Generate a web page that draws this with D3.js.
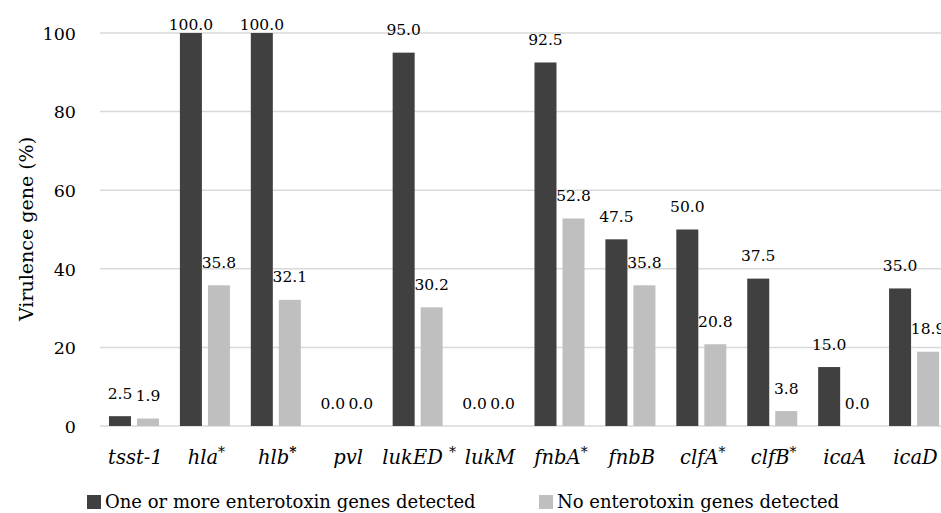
<!DOCTYPE html>
<html>
<head>
<meta charset="utf-8">
<script src="https://cdn.jsdelivr.net/npm/d3@7"></script>
<style>
  html, body { margin: 0; padding: 0; background: #ffffff; }
  svg { display: block; }
  text { font-family: "DejaVu Serif", "Liberation Serif", "Noto Serif", serif; fill: #000; }
</style>
</head>
<body>
<svg id="chart" width="941" height="513"></svg>
<script>
// ---- data ----
const categories = ["tsst-1", "hla", "hlb", "pvl", "lukED", "lukM", "fnbA", "fnbB", "clfA", "clfB", "icaA", "icaD"];
const asterisks  = ["", "*", "*", "", " *", "", "*", "", "*", "*", "", ""];
const seriesNames = ["One or more enterotoxin genes detected", "No enterotoxin genes detected"];
const withEnterotoxin = [2.5, 100.0, 100.0, 0.0, 95.0, 0.0, 92.5, 47.5, 50.0, 37.5, 15.0, 35.0];
const noEnterotoxin   = [1.9, 35.8, 32.1, 0.0, 30.2, 0.0, 52.8, 35.8, 20.8, 3.8, 0.0, 18.9];
const yTicks = [0, 20, 40, 60, 80, 100];
const yTitle = "Virulence gene (%)";

const colors = ["#404040", "#bfbfbf"];
const FONT = '"DejaVu Serif", "Liberation Serif", "Noto Serif", serif';

const svg = d3.select("#chart");

const x0 = d3.scaleBand().domain(categories).range([100, 951]).paddingInner(0).paddingOuter(0);
const x1 = d3.scaleBand().domain([0, 1]).range([0, x0.bandwidth()])
  .paddingInner(6 / 28).paddingOuter(0.373).align(0.43);
const y = d3.scaleLinear().domain([0, 100]).range([426, 33]);

// gridlines
svg.append("g").selectAll("line").data(yTicks).join("line")
  .attr("x1", 100).attr("x2", 941)
  .attr("y1", d => y(d)).attr("y2", d => y(d))
  .attr("stroke", "#d9d9d9").attr("stroke-width", 1.5);

// y tick labels via axis
const yAxis = d3.axisLeft(y).tickValues(yTicks).tickSize(0).tickPadding(0).tickFormat(d3.format("d"));
const ya = svg.append("g").attr("transform", "translate(76,0)").call(yAxis)
  .attr("font-family", FONT).attr("font-size", 17.5);
ya.select(".domain").remove();
ya.selectAll("text").attr("fill", "#000").attr("dy", "0.36em");

// bars
const rows = categories.map((c, i) => ({ cat: c, vals: [withEnterotoxin[i], noEnterotoxin[i]] }));
const groups = svg.append("g").selectAll("g").data(rows).join("g")
  .attr("transform", d => `translate(${x0(d.cat)},0)`);

groups.selectAll("rect").data(d => d.vals.map((v, s) => ({ v, s }))).join("rect")
  .attr("x", d => x1(d.s)).attr("width", x1.bandwidth())
  .attr("y", d => y(d.v)).attr("height", d => y(0) - y(d.v))
  .attr("fill", d => colors[d.s]);

// value labels
groups.selectAll("text.val").data(d => d.vals.map((v, s) => ({ v, s }))).join("text")
  .attr("class", "val")
  .attr("x", d => x1(d.s) + x1.bandwidth() / 2)
  .attr("y", d => Math.max(y(d.v) - 17.5, 30))
  .attr("text-anchor", "middle")
  .attr("font-size", 15.5)
  .text(d => d3.format(".1f")(d.v));

// x labels
const xl = svg.append("g").selectAll("text").data(categories).join("text")
  .attr("x", d => x0(d) + x0.bandwidth() / 2)
  .attr("y", 464)
  .attr("text-anchor", "middle")
  .attr("font-size", 19.5)
  .attr("font-style", "italic");
xl.append("tspan").text(d => d);
xl.each(function(d, i) {
  const a = asterisks[i];
  if (!a) return;
  const t = d3.select(this);
  if (a.startsWith(" ")) t.append("tspan").text(" ");
  t.append("tspan").attr("dy", -7).attr("font-size", 14).attr("font-style", "normal")
    .attr("font-weight", d === "hlb" ? "bold" : "normal").text("*");
});

// y title
svg.append("text")
  .attr("transform", "translate(33,229) rotate(-90)")
  .attr("text-anchor", "middle")
  .attr("font-size", 19)
  .text(yTitle);

// legend
const legX = [87, 539];
const leg = svg.append("g").selectAll("g").data(seriesNames).join("g")
  .attr("transform", (d, i) => `translate(${legX[i]},0)`);
leg.append("rect").attr("x", 0).attr("y", 495).attr("width", 14).attr("height", 14)
  .attr("fill", (d, i) => colors[i]);
leg.append("text").attr("x", 18).attr("y", 508).attr("font-size", 18).text(d => d);
</script>
</body>
</html>
